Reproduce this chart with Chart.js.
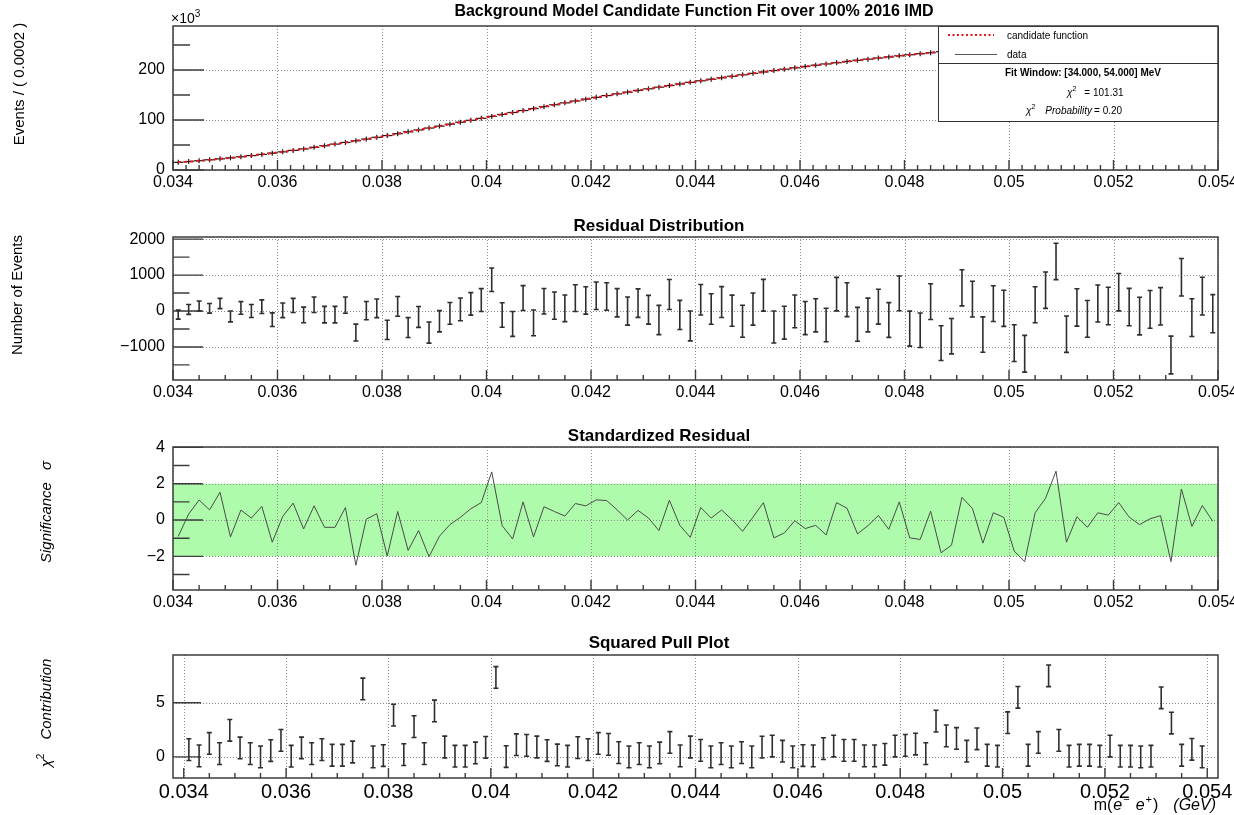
<!DOCTYPE html>
<html>
<head>
<meta charset="utf-8">
<title>Background Model Candidate Function Fit</title>
<script src="https://cdn.jsdelivr.net/npm/chart.js@4.4.1/dist/chart.umd.min.js"></script>
<style>
  html, body { margin: 0; padding: 0; background: #fff; }
  body { width: 1234px; height: 815px; position: relative; overflow: hidden; }
  canvas { position: absolute; left: 0; }
</style>
</head>
<body>
<canvas id="fitChart" width="1234" height="200" style="top:0px"></canvas>
<canvas id="residChart" width="1234" height="210" style="top:200px"></canvas>
<canvas id="stdChart" width="1234" height="210" style="top:410px"></canvas>
<canvas id="pullChart" width="1234" height="195" style="top:620px"></canvas>
<script>
// bin centres, m(e-e+) in GeV (bin width 0.0002)
const binCenters = [
  0.0341, 0.0343, 0.0345, 0.0347, 0.0349, 0.0351, 0.0353, 0.0355, 0.0357, 0.0359,
  0.0361, 0.0363, 0.0365, 0.0367, 0.0369, 0.0371, 0.0373, 0.0375, 0.0377, 0.0379,
  0.0381, 0.0383, 0.0385, 0.0387, 0.0389, 0.0391, 0.0393, 0.0395, 0.0397, 0.0399,
  0.0401, 0.0403, 0.0405, 0.0407, 0.0409, 0.0411, 0.0413, 0.0415, 0.0417, 0.0419,
  0.0421, 0.0423, 0.0425, 0.0427, 0.0429, 0.0431, 0.0433, 0.0435, 0.0437, 0.0439,
  0.0441, 0.0443, 0.0445, 0.0447, 0.0449, 0.0451, 0.0453, 0.0455, 0.0457, 0.0459,
  0.0461, 0.0463, 0.0465, 0.0467, 0.0469, 0.0471, 0.0473, 0.0475, 0.0477, 0.0479,
  0.0481, 0.0483, 0.0485, 0.0487, 0.0489, 0.0491, 0.0493, 0.0495, 0.0497, 0.0499,
  0.0501, 0.0503, 0.0505, 0.0507, 0.0509, 0.0511, 0.0513, 0.0515, 0.0517, 0.0519,
  0.0521, 0.0523, 0.0525, 0.0527, 0.0529, 0.0531, 0.0533, 0.0535, 0.0537, 0.0539
];

// events per bin, x10^3 (data and candidate function overlap at this scale)
const eventsK = [
  15.3, 16.9, 18.6, 20.4, 22.3, 24.3, 26.5, 28.8, 31.2, 33.7,
  36.3, 39.2, 42.2, 45.3, 48.5, 51.8, 55.1, 58.5, 61.9, 65.4,
  68.9, 72.6, 76.3, 80.1, 83.9, 87.7, 91.6, 95.5, 99.4, 103.3,
  107.2, 111.1, 115.0, 118.9, 122.8, 126.7, 130.5, 134.3, 138.0, 141.7,
  145.3, 148.8, 152.3, 155.7, 159.1, 162.4, 165.7, 168.9, 172.1, 175.3,
  178.4, 181.5, 184.5, 187.5, 190.4, 193.3, 196.1, 198.9, 201.6, 204.3,
  207.0, 209.6, 212.1, 214.6, 217.0, 219.4, 221.7, 224.0, 226.2, 228.4,
  230.5, 232.6, 234.6, 236.6, 238.5, 240.4, 242.2, 244.0, 245.8, 247.5,
  249.2, 250.9, 252.5, 254.1, 255.6, 257.1, 258.6, 260.0, 261.4, 262.8,
  264.1, 265.4, 266.7, 267.9, 269.1, 270.3, 271.4, 272.5, 273.6, 274.6
];

// residual (data - fit), number of events
const residuals = [
  -100, 45, 140, 75, 210, -150, 85, 0, 120, -240,
  20, 155, -110, 175, -100, -100, 165, -600, 10, 75,
  -525, 130, -460, -165, -600, -285, -65, 45, 200, 305,
  870, -110, -360, 360, -330, 270, 150, 75, 360, 295,
  425, 405, 230, 0, 220, 35, -250, 460, -110, -415,
  313, 55, 250, 10, -285, 55, 440, -445, -325, -10,
  -195, -120, -390, 470, 315, -370, -110, 120, -250, 490,
  -490, -535, 260, -895, -700, 645, 330, -655, 205, 75,
  -895, -1190, 175, 580, 1380, -645, 100, -220, 210, 140,
  525, 110, -140, 45, 130, -1225, 940, -185, 415, -75
];

// residual error bars (half length)
const residErrors = [
  125, 138, 138, 134, 143, 152, 175, 180, 189, 189,
  203, 198, 217, 217, 230, 230, 226, 235, 253, 258,
  267, 276, 276, 290, 295, 295, 304, 318, 313, 318,
  327, 341, 346, 346, 359, 355, 378, 369, 373, 382,
  382, 382, 392, 392, 396, 401, 406, 419, 406, 415,
  424, 424, 429, 433, 447, 447, 442, 447, 456, 456,
  461, 461, 465, 465, 470, 470, 470, 484, 484, 484,
  488, 479, 498, 484, 493, 502, 498, 493, 498, 502,
  512, 512, 502, 507, 507, 507, 521, 512, 516, 521,
  521, 521, 525, 525, 521, 525, 521, 525, 525, 530
];

// standardized residual (sigma)
const stdResid = [
  -0.90, 0.33, 1.10, 0.56, 1.53, -0.93, 0.55, 0.11, 0.75, -1.22,
  0.20, 0.93, -0.49, 0.78, -0.40, -0.40, 0.69, -2.49, 0.05, 0.35,
  -1.98, 0.47, -1.67, -0.58, -2.02, -0.89, -0.25, 0.15, 0.62, 0.96,
  2.65, -0.31, -1.04, 1.00, -0.93, 0.73, 0.47, 0.22, 0.91, 0.78,
  1.11, 1.07, 0.56, 0.00, 0.53, 0.11, -0.58, 1.09, -0.29, -0.95,
  0.69, 0.11, 0.55, 0.02, -0.62, 0.16, 0.96, -0.98, -0.71, -0.04,
  -0.47, -0.29, -0.82, 0.96, 0.65, -0.76, -0.31, 0.25, -0.51, 1.00,
  -0.98, -1.07, 0.49, -1.80, -1.38, 1.25, 0.64, -1.27, 0.40, 0.15,
  -1.71, -2.29, 0.40, 1.20, 2.69, -1.22, 0.18, -0.40, 0.40, 0.27,
  0.96, 0.16, -0.25, 0.07, 0.24, -2.29, 1.71, -0.35, 0.80, -0.07
];

// chi2 contribution per bin
const pullSq = [
  0.67, 0.09, 1.24, 0.30, 2.45, 0.82, 0.30, 0.00, 0.58, 1.52,
  0.06, 0.82, 0.30, 0.67, 0.15, 0.15, 0.45, 6.27, 0.00, 0.12,
  3.85, 0.21, 2.79, 0.30, 4.24, 0.91, 0.06, 0.06, 0.36, 0.88,
  7.33, 0.03, 1.12, 1.06, 0.91, 0.58, 0.18, 0.06, 0.85, 0.67,
  1.24, 1.15, 0.39, 0.00, 0.30, 0.00, 0.36, 1.33, 0.09, 0.91,
  0.60, 0.00, 0.30, 0.00, 0.39, 0.00, 0.90, 1.00, 0.52, 0.00,
  0.12, 0.09, 0.76, 1.00, 0.60, 0.60, 0.09, 0.09, 0.24, 1.00,
  1.06, 1.18, 0.30, 3.30, 1.94, 1.70, 0.52, 1.67, 0.15, 0.06,
  3.15, 5.50, 0.15, 1.33, 7.48, 1.52, 0.06, 0.15, 0.15, 0.06,
  1.00, 0.06, 0.06, 0.00, 0.06, 5.45, 3.12, 0.15, 0.70, 0.00
];
const pullErr = 1.0;

const xTickValues = [0.034, 0.036, 0.038, 0.040, 0.042, 0.044, 0.046, 0.048, 0.050, 0.052, 0.054];
const xTickLabels = ['0.034', '0.036', '0.038', '0.04', '0.042', '0.044', '0.046', '0.048', '0.05', '0.052', '0.054'];

const fitYTicks = [0, 100, 200];
const fitYLabels = ['0', '100', '200'];
const residYTicks = [-1000, 0, 1000, 2000];
const residYLabels = ['\u22121000', '0', '1000', '2000'];
const stdYTicks = [-2, 0, 2, 4];
const stdYLabels = ['\u22122', '0', '2', '4'];
const pullYTicks = [0, 5];
const pullYLabels = ['0', '5'];

const FONT = '"Liberation Sans", Arial, Helvetica, sans-serif';

function richText(ctx, segs, x, y, align) {
  let w = 0;
  segs.forEach(s => { ctx.font = s.f; s.w = ctx.measureText(s.t).width; w += s.w + (s.gap || 0); });
  let xx = align === 'center' ? x - w / 2 : (align === 'right' ? x - w : x);
  ctx.textAlign = 'left';
  segs.forEach(s => {
    ctx.font = s.f;
    ctx.fillText(s.t, xx, y + (s.dy || 0));
    xx += s.w + (s.gap || 0);
  });
}

function deco(p) {
  return {
    id: 'deco',
    beforeDatasetsDraw(chart) {
      const { ctx, chartArea: a } = chart;
      const x = chart.scales.x, y = chart.scales.y;
      ctx.save();
      if (p.band) {
        const yt = y.getPixelForValue(p.band[1]), yb = y.getPixelForValue(p.band[0]);
        ctx.fillStyle = '#aefcab';
        ctx.fillRect(a.left, yt, a.right - a.left, yb - yt);
      }
      // dotted grid
      ctx.strokeStyle = '#8a8a8a';
      ctx.lineWidth = 1;
      ctx.setLineDash([1, 2]);
      ctx.beginPath();
      x.ticks.forEach(t => {
        const px = Math.round(x.getPixelForValue(t.value)) + 0.5;
        ctx.moveTo(px, a.top); ctx.lineTo(px, a.bottom);
      });
      y.ticks.forEach(t => {
        const py = Math.round(y.getPixelForValue(t.value)) + 0.5;
        ctx.moveTo(a.left, py); ctx.lineTo(a.right, py);
      });
      ctx.stroke();
      ctx.setLineDash([]);
      // tick marks
      ctx.strokeStyle = '#3c3c3c';
      ctx.lineWidth = 1.4;
      ctx.beginPath();
      y.ticks.forEach(t => {
        const py = y.getPixelForValue(t.value);
        ctx.moveTo(a.left, py); ctx.lineTo(a.left + p.yTickLen, py);
      });
      p.yMinor.forEach(v => {
        const py = y.getPixelForValue(v);
        ctx.moveTo(a.left, py); ctx.lineTo(a.left + p.yTickLen * 0.55, py);
      });
      const n = 10 * p.xSub;
      for (let k = 0; k <= n; k++) {
        const px = x.getPixelForValue(xTickValues[0] + k * (0.002 / p.xSub));
        const len = k % p.xSub === 0 ? 10 : 5;
        ctx.moveTo(px, a.bottom); ctx.lineTo(px, a.bottom - len);
      }
      ctx.stroke();
      ctx.restore();
    },
    afterDatasetsDraw(chart) {
      const { ctx, chartArea: a } = chart;
      const x = chart.scales.x, y = chart.scales.y;
      ctx.save();
      if (p.bars) {
        ctx.strokeStyle = '#2e2e2e';
        ctx.lineWidth = 1.6;
        ctx.beginPath();
        p.bars.values.forEach((v, i) => {
          const e = Array.isArray(p.bars.errs) ? p.bars.errs[i] : p.bars.errs;
          const px = x.getPixelForValue(binCenters[i]);
          const y0 = y.getPixelForValue(v - e), y1 = y.getPixelForValue(v + e);
          ctx.moveTo(px, y0); ctx.lineTo(px, y1);
          ctx.moveTo(px - 2.5, y0); ctx.lineTo(px + 2.5, y0);
          ctx.moveTo(px - 2.5, y1); ctx.lineTo(px + 2.5, y1);
        });
        ctx.stroke();
      }
      if (p.legend) p.legend(ctx, a);
      ctx.strokeStyle = '#3c3c3c';
      ctx.lineWidth = 1.5;
      ctx.strokeRect(a.left, a.top, a.right - a.left, a.bottom - a.top);

      ctx.fillStyle = '#000';
      ctx.textBaseline = 'middle';
      ctx.textAlign = 'center';
      ctx.font = 'bold ' + p.titleSize + 'px ' + FONT;
      ctx.fillText(p.title, p.titleX, p.titleY);

      ctx.save();
      ctx.translate(p.yTitleX, p.yTitleY);
      ctx.rotate(-Math.PI / 2);
      richText(ctx, p.yTitle, 0, 0, 'center');
      ctx.restore();

      if (p.extra) p.extra(ctx, a);
      ctx.restore();
    }
  };
}

function panelOptions(p) {
  return {
    responsive: false,
    animation: false,
    events: [],
    layout: { padding: { top: p.top, right: 16, left: 0, bottom: 0 } },
    plugins: { legend: { display: false }, tooltip: { enabled: false } },
    scales: {
      x: {
        type: 'linear', min: p.xMin, max: p.xMax,
        grid: { display: false, drawTicks: false }, border: { display: false },
        afterBuildTicks: s => { s.ticks = xTickValues.map(v => ({ value: v })); },
        afterFit: s => { s.height = p.xAxisH; s.paddingLeft = 0; s.paddingRight = 0; },
        ticks: {
          autoSkip: false, maxRotation: 0, minRotation: 0, padding: p.xPad, color: '#000',
          font: { family: FONT, size: p.xFont },
          callback: (v, i) => xTickLabels[i]
        }
      },
      y: {
        type: 'linear', min: p.yMin, max: p.yMax,
        grid: { display: false, drawTicks: false }, border: { display: false },
        afterBuildTicks: s => { s.ticks = p.yTicks.map(v => ({ value: v })); },
        afterFit: s => { s.width = 173; s.paddingTop = 0; s.paddingBottom = 0; },
        ticks: {
          padding: 8, color: '#000', font: { family: FONT, size: 16 },
          callback: (v, i) => p.yLabels[i]
        }
      }
    }
  };
}

const pts = vals => binCenters.map((x, i) => ({ x, y: vals[i] }));
const it15 = 'italic 15px ' + FONT, rg15 = '15px ' + FONT;
const it16 = 'italic 16px ' + FONT, rg16 = '16px ' + FONT;

// ---- panel 1: fit ----
const fitLegend = (ctx, a) => {
  const L = { x: 938, y: a.top, w: a.right - 938, h: 95 };
  ctx.fillStyle = '#fff';
  ctx.fillRect(L.x, L.y, L.w, L.h);
  ctx.strokeStyle = '#333'; ctx.lineWidth = 1;
  ctx.strokeRect(L.x + 0.5, L.y + 0.5, L.w, L.h);
  ctx.beginPath(); ctx.moveTo(L.x, 63.5); ctx.lineTo(L.x + L.w, 63.5); ctx.stroke();
  ctx.strokeStyle = '#e8141c'; ctx.lineWidth = 2; ctx.setLineDash([2, 2.5]);
  ctx.beginPath(); ctx.moveTo(948, 35); ctx.lineTo(994, 35); ctx.stroke();
  ctx.setLineDash([]);
  ctx.strokeStyle = '#555'; ctx.lineWidth = 1;
  ctx.beginPath(); ctx.moveTo(955, 54.5); ctx.lineTo(997, 54.5); ctx.stroke();
  ctx.fillStyle = '#000'; ctx.textBaseline = 'middle'; ctx.textAlign = 'left';
  ctx.font = '10px ' + FONT;
  ctx.fillText('candidate function', 1007, 36);
  ctx.fillText('data', 1007, 55);
  ctx.textAlign = 'center';
  ctx.font = 'bold 10px ' + FONT;
  ctx.fillText('Fit Window: [34.000, 54.000] MeV', 1083, 73);
  const r10 = '10px ' + FONT, i10 = 'italic 10px ' + FONT, s7 = '7px ' + FONT;
  richText(ctx, [{ t: '\u03c7', f: i10 }, { t: '2', f: s7, dy: -4, gap: 8 }, { t: '= 101.31', f: r10 }], 1067, 93, 'left');
  richText(ctx, [{ t: '\u03c7', f: i10 }, { t: '2', f: s7, dy: -4, gap: 10 }, { t: 'Probability', f: i10, gap: 2 }, { t: '= 0.20', f: r10 }], 1026, 111, 'left');
};

new Chart(document.getElementById('fitChart'), {
  type: 'scatter',
  data: {
    datasets: [
      { type: 'line', label: 'candidate function', data: pts(eventsK), borderColor: '#e8141c', borderWidth: 2, borderDash: [3, 3], pointRadius: 0, order: 1 },
      { label: 'data', data: pts(eventsK), pointStyle: 'line', pointRadius: 5.2, borderColor: '#1a1a1a', borderWidth: 1.2, order: 3 },
      { label: 'data', data: pts(eventsK), pointStyle: 'line', rotation: 90, pointRadius: 2.5, borderColor: '#1a1a1a', borderWidth: 1.2, order: 2 }
    ]
  },
  options: panelOptions({ top: 26, xMin: 0.034, xMax: 0.054, xAxisH: 30, xPad: 3, xFont: 16, yMin: 0, yMax: 288, yTicks: fitYTicks, yLabels: fitYLabels }),
  plugins: [deco({
    yTickLen: 31, yMinor: [50, 150, 250], xSub: 8,
    title: 'Background Model Candidate Function Fit over 100% 2016 IMD', titleSize: 16, titleX: 694, titleY: 12,
    yTitle: [{ t: 'Events / ( 0.0002 )', f: rg15 }], yTitleX: 20, yTitleY: 84,
    legend: fitLegend,
    extra: ctx => {
      ctx.fillStyle = '#000'; ctx.textBaseline = 'middle';
      richText(ctx, [{ t: '\u00d710', f: '14px ' + FONT }, { t: '3', f: '10px ' + FONT, dy: -5 }], 171, 19, 'left');
    }
  })]
});

// ---- panel 2: residual distribution ----
new Chart(document.getElementById('residChart'), {
  type: 'scatter',
  data: { datasets: [{ label: 'residual', data: pts(residuals), pointRadius: 0 }] },
  options: panelOptions({ top: 37, xMin: 0.034, xMax: 0.054, xAxisH: 30, xPad: 3, xFont: 16, yMin: -1920, yMax: 2060, yTicks: residYTicks, yLabels: residYLabels }),
  plugins: [deco({
    yTickLen: 30, yMinor: [-1500, -500, 500, 1500], xSub: 4,
    bars: { values: residuals, errs: residErrors },
    title: 'Residual Distribution', titleSize: 17, titleX: 659, titleY: 26,
    yTitle: [{ t: 'Number of Events', f: rg15 }], yTitleX: 18, yTitleY: 95
  })]
});

// ---- panel 3: standardized residual ----
new Chart(document.getElementById('stdChart'), {
  type: 'scatter',
  data: { datasets: [{ type: 'line', label: 'standardized residual', data: pts(stdResid), borderColor: '#4a4a4a', borderWidth: 1, pointRadius: 0, tension: 0 }] },
  options: panelOptions({ top: 37, xMin: 0.034, xMax: 0.054, xAxisH: 30, xPad: 3, xFont: 16, yMin: -3.85, yMax: 4.02, yTicks: stdYTicks, yLabels: stdYLabels }),
  plugins: [deco({
    yTickLen: 30, yMinor: [-3, -1, 1, 3], xSub: 4, band: [-2, 2],
    title: 'Standardized Residual', titleSize: 17, titleX: 659, titleY: 26,
    yTitle: [{ t: 'Significance', f: it15, gap: 12 }, { t: '\u03c3', f: it15 }], yTitleX: 47, yTitleY: 102
  })]
});

// ---- panel 4: squared pull ----
new Chart(document.getElementById('pullChart'), {
  type: 'scatter',
  data: { datasets: [{ label: 'squared pull', data: pts(pullSq), pointRadius: 0 }] },
  options: panelOptions({ top: 35, xMin: 0.03379, xMax: 0.05421, xAxisH: 37, xPad: 2, xFont: 20, yMin: -1.95, yMax: 9.4, yTicks: pullYTicks, yLabels: pullYLabels }),
  plugins: [deco({
    yTickLen: 28, yMinor: [], xSub: 4,
    bars: { values: pullSq, errs: pullErr },
    title: 'Squared Pull Plot', titleSize: 17, titleX: 659, titleY: 23,
    yTitle: [{ t: '\u03c7', f: it15 }, { t: '2', f: '10px ' + FONT, dy: -6, gap: 14 }, { t: 'Contribution', f: it15 }], yTitleX: 47, yTitleY: 93,
    extra: ctx => {
      ctx.fillStyle = '#000'; ctx.textBaseline = 'middle';
      const sup = '11px ' + FONT;
      richText(ctx, [
        { t: 'm(', f: rg16, gap: 1 }, { t: 'e', f: it16, gap: 1 }, { t: '\u2212', f: sup, dy: -6, gap: 6 },
        { t: 'e', f: it16, gap: 1 }, { t: '+', f: sup, dy: -6, gap: 1 }, { t: ')', f: rg16, gap: 15 },
        { t: '(GeV)', f: it16 }
      ], 1216, 186, 'right');
    }
  })]
});
</script>
</body>
</html>
